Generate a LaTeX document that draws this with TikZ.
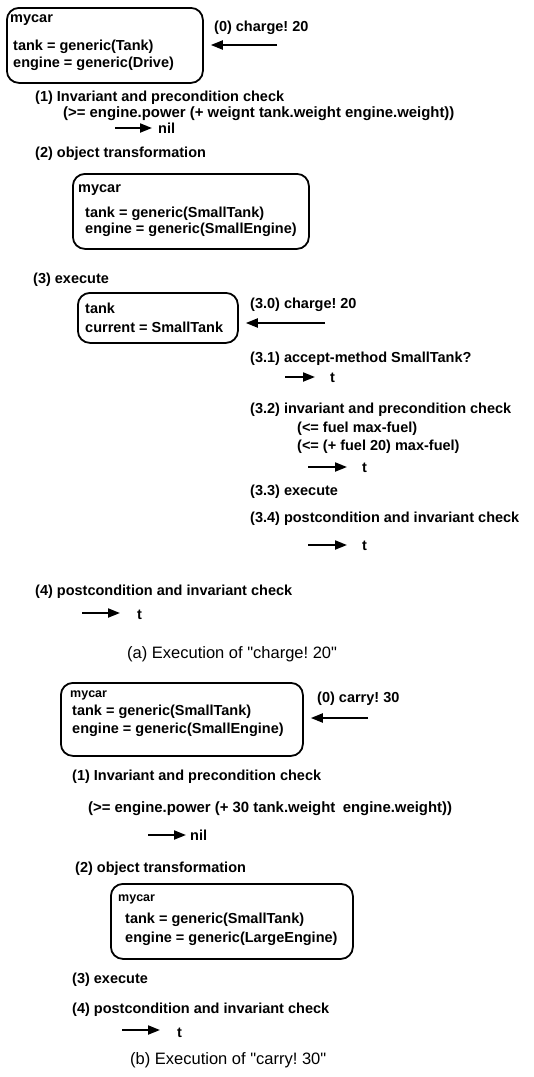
\documentclass[tikz,border=0pt]{standalone}
\usepackage{fontspec}
\setmainfont{Liberation Sans}
\usetikzlibrary{arrows.meta}
\frenchspacing

\begin{document}
\begin{tikzpicture}[x=1pt, y=-1pt,
    lbl/.style={anchor=base west, inner sep=0pt, font=\fontsize{14.5}{17}\selectfont\bfseries},
    small/.style={lbl, font=\fontsize{12.5}{15}\selectfont\bfseries},
    cond/.style={lbl, font=\fontsize{14.9}{17}\selectfont\bfseries},
    caption/.style={anchor=base west, inner sep=0pt, font=\fontsize{16.5}{19}\selectfont},
    objbox/.style={draw, line width=1.8pt, rounded corners=12pt, anchor=north west, inner sep=0pt},
    msg/.style={line width=2pt, -{Triangle[length=12pt,width=9pt]}, shorten >=7pt},
    res/.style={line width=2pt, -{Triangle[length=12pt,width=9pt]}}]

    \useasboundingbox (0,0) rectangle (534,1077);

    % (a) charge! 20
    \node[objbox, minimum width=196pt, minimum height=75pt] (carA) at (6,7) {};
    \node[lbl] (carAname) at (10,22) {mycar};
    \node[lbl] (carAtank) at (13,50) {tank = generic(Tank)};
    \node[lbl] (carAeng) at (13,67) {engine = generic(Drive)};
    \node[lbl] (sA0) at (214,31) {(0) charge! 20};
    \coordinate (mA0) at (277,45);
    \draw[msg] (mA0) -- (mA0 -| carA.east);

    \node[lbl] (sA1) at (35,101) {(1) Invariant and precondition check};
    \node[cond] (cA1) at (63,117) {(>= engine.power (+ weignt tank.weight engine.weight))};
    \coordinate (rA1) at (115,128);
    \node[lbl] (nilA1) at (158,133) {nil};
    \draw[res] (rA1) -- ([xshift=-6pt]rA1 -| nilA1.west);

    \node[lbl] (sA2) at (35,157) {(2) object transformation};
    \node[objbox, minimum width=236pt, minimum height=75pt] (carA2) at (72,173) {};
    \node[lbl] (carA2name) at (78,192) {mycar};
    \node[lbl] (carA2tank) at (85,217) {tank = generic(SmallTank)};
    \node[lbl] (carA2eng) at (85,233) {engine = generic(SmallEngine)};

    \node[lbl] (sA3) at (33,283) {(3) execute};
    \node[objbox, minimum width=160pt, minimum height=50pt] (tankA) at (77,292) {};
    \node[lbl] (tankAname) at (85,313) {tank};
    \node[lbl] (tankAcur) at (85,332) {current = SmallTank};
    \node[lbl] (sA30) at (250,308) {(3.0) charge! 20};
    \coordinate (mA30) at (325,323);
    \draw[msg] (mA30) -- (mA30 -| tankA.east);

    \node[lbl] (sA31) at (250,362) {(3.1) accept-method SmallTank?};
    \coordinate (rA31) at (285,377);
    \node[lbl] (tA31) at (330,382) {t};
    \draw[res] (rA31) -- ([xshift=-15pt]rA31 -| tA31.west);

    \node[lbl] (sA32) at (250,413) {(3.2) invariant and precondition check};
    \node[lbl] (cA32a) at (297,432) {(<= fuel max-fuel)};
    \node[lbl] (cA32b) at (297,450) {(<= (+ fuel 20) max-fuel)};
    \coordinate (rA32) at (308,467);
    \node[lbl] (tA32) at (362,472) {t};
    \draw[res] (rA32) -- ([xshift=-15pt]rA32 -| tA32.west);

    \node[lbl] (sA33) at (250,495) {(3.3) execute};
    \node[lbl] (sA34) at (250,522) {(3.4) postcondition and invariant check};
    \coordinate (rA34) at (308,545);
    \node[lbl] (tA34) at (362,550) {t};
    \draw[res] (rA34) -- ([xshift=-15pt]rA34 -| tA34.west);

    \node[lbl] (sA4) at (35,595) {(4) postcondition and invariant check};
    \coordinate (rA4) at (82,613);
    \node[lbl] (tA4) at (137,619) {t};
    \draw[res] (rA4) -- ([xshift=-17pt]rA4 -| tA4.west);

    \node[caption] (capA) at (127,658) {(a) Execution of \textquotedbl charge! 20\textquotedbl};

    % (b) carry! 30
    \node[objbox, minimum width=242pt, minimum height=73pt] (carB) at (60,682) {};
    \node[small] (carBname) at (70,697) {mycar};
    \node[lbl] (carBtank) at (72,715) {tank = generic(SmallTank)};
    \node[lbl] (carBeng) at (72,733) {engine = generic(SmallEngine)};
    \node[lbl] (sB0) at (317,702) {(0) carry! 30};
    \coordinate (mB0) at (368,718);
    \draw[msg] (mB0) -- (mB0 -| carB.east);

    \node[lbl] (sB1) at (72,780) {(1) Invariant and precondition check};
    \node[cond] (cB1) at (88,812) {(>= engine.power (+ 30 tank.weight\enspace engine.weight))};
    \coordinate (rB1) at (148,835);
    \node[lbl] (nilB1) at (190,840) {nil};
    \draw[res] (rB1) -- ([xshift=-4pt]rB1 -| nilB1.west);

    \node[lbl] (sB2) at (75,872) {(2) object transformation};
    \node[objbox, minimum width=242pt, minimum height=75pt] (carB2) at (110,883) {};
    \node[small] (carB2name) at (118,901) {mycar};
    \node[lbl] (carB2tank) at (125,923) {tank = generic(SmallTank)};
    \node[lbl] (carB2eng) at (125,942) {engine = generic(LargeEngine)};

    \node[lbl] (sB3) at (72,983) {(3) execute};
    \node[lbl] (sB4) at (72,1013) {(4) postcondition and invariant check};
    \coordinate (rB4) at (122,1030);
    \node[lbl] (tB4) at (177,1037) {t};
    \draw[res] (rB4) -- ([xshift=-17pt]rB4 -| tB4.west);

    \node[caption] (capB) at (130,1064) {(b) Execution of \textquotedbl carry! 30\textquotedbl};
\end{tikzpicture}
\end{document}
